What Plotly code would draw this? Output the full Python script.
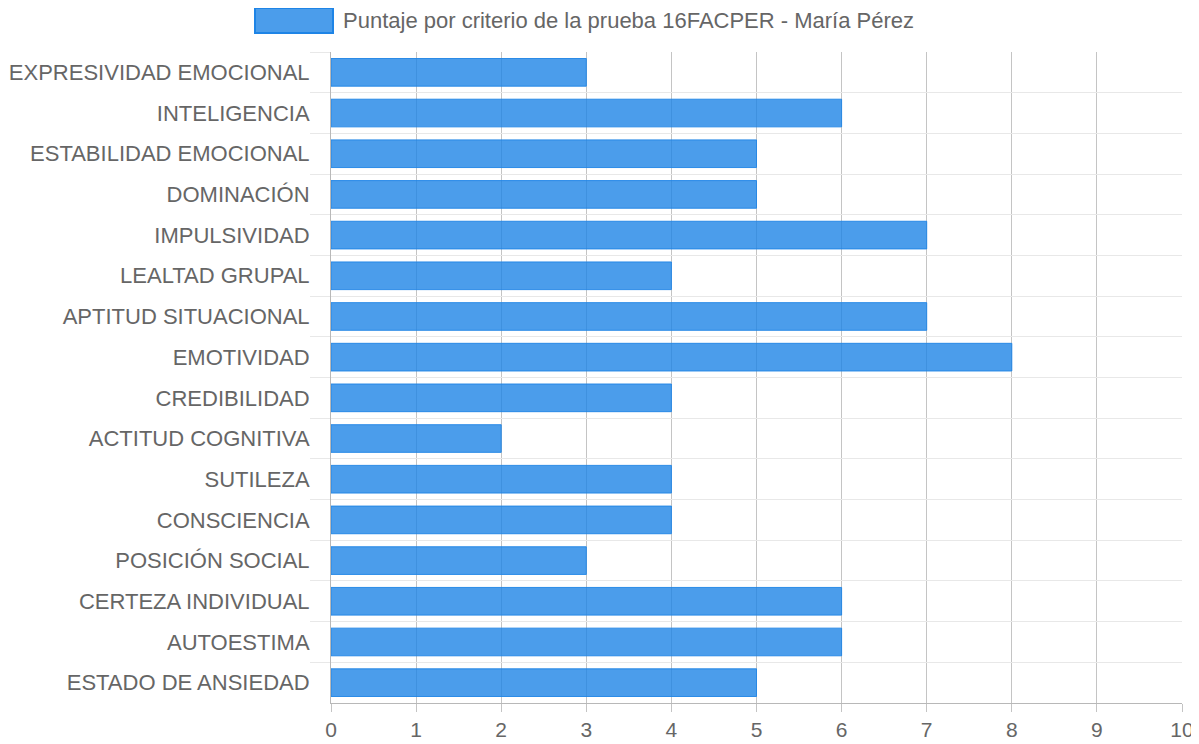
import plotly.graph_objects as go

categories = ["EXPRESIVIDAD EMOCIONAL", "INTELIGENCIA", "ESTABILIDAD EMOCIONAL", "DOMINACIÓN",
              "IMPULSIVIDAD", "LEALTAD GRUPAL", "APTITUD SITUACIONAL", "EMOTIVIDAD",
              "CREDIBILIDAD", "ACTITUD COGNITIVA", "SUTILEZA", "CONSCIENCIA",
              "POSICIÓN SOCIAL", "CERTEZA INDIVIDUAL", "AUTOESTIMA", "ESTADO DE ANSIEDAD"]
values = [3, 6, 5, 5, 7, 4, 7, 8, 4, 2, 4, 4, 3, 6, 6, 5]
series_name = "Puntaje por criterio de la prueba 16FACPER - María Pérez"
x_ticks = list(range(0, 11))

FONT = "Liberation Sans, Arial, sans-serif"
OFF = 8  # page body margin
W, H = 1199 - OFF, 744 - OFF
L, R, T, B = 331 - OFF, 17, 52 - OFF, 41
PW, PH = W - L - R, H - T - B


def px_x(x):
    return (x - OFF - L) / PW


def px_y(y):
    return (H - B - (y - OFF)) / PH


fig = go.Figure()
fig.add_trace(go.Bar(
    y=categories, x=values, orientation="h", name=series_name,
    marker=dict(color="rgba(30,132,230,0.8)", line=dict(color="rgba(30,132,230,0.9)", width=1)),
    showlegend=False,
))

fig.update_layout(
    width=W, height=H,
    margin=dict(l=L, r=R, t=T, b=B),
    plot_bgcolor="white", paper_bgcolor="white",
    bargap=0.32,
    font=dict(family=FONT, color="#666666", size=21),
    xaxis=dict(range=[0, 10], tickvals=x_ticks, showgrid=True, gridcolor="#c4c4c4", gridwidth=1,
               zeroline=False, showline=True, linecolor="#b8b8b8", linewidth=1,
               ticks="outside", ticklen=8, tickcolor="#c4c4c4", automargin=False,
               tickfont=dict(size=21, color="#666666", family=FONT)),
    yaxis=dict(autorange="reversed", type="category", tickson="boundaries", showgrid=True,
               gridcolor="#e8e8e8", gridwidth=1, ticks="outside", ticklen=20, tickcolor="#e8e8e8",
               showline=True, linecolor="#b8b8b8", linewidth=1, automargin=False,
               ticklabelstandoff=16,
               tickfont=dict(size=22, color="#666666", family=FONT)),
    shapes=[dict(type="rect", xref="paper", yref="paper",
                 x0=px_x(255), x1=px_x(333), y0=px_y(33), y1=px_y(8),
                 fillcolor="rgba(30,132,230,0.8)", line=dict(color="rgb(30,132,230)", width=2))],
    annotations=[dict(text=series_name, xref="paper", yref="paper",
                      x=px_x(341), y=px_y(20.5),
                      xanchor="left", yanchor="middle", showarrow=False,
                      font=dict(size=22, color="#666666", family=FONT))],
)

fig.write_html("out.html")
